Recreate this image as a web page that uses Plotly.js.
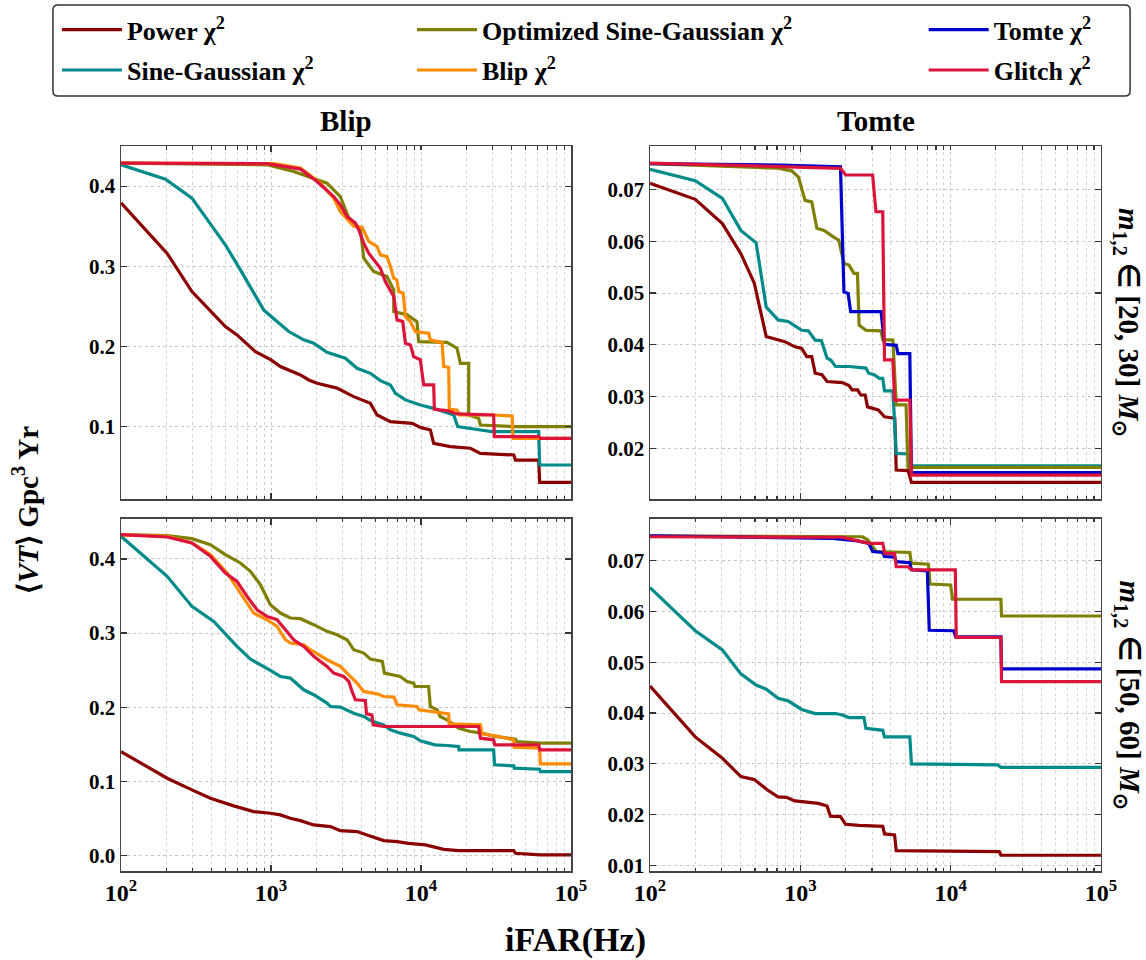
<!DOCTYPE html>
<html>
<head>
<meta charset="utf-8">
<script src="https://cdn.plot.ly/plotly-3.0.1.min.js"></script>
<style>html,body{margin:0;padding:0;background:#fff;}#chart{width:1146px;height:960px;}</style>
</head>
<body>
<div id="chart"></div>
<script>
// ---------------- DATA ----------------
const seriesNames = ["Power χ<sup>2</sup>", "Sine-Gaussian χ<sup>2</sup>", "Optimized Sine-Gaussian χ<sup>2</sup>", "Blip χ<sup>2</sup>", "Tomte χ<sup>2</sup>", "Glitch χ<sup>2</sup>"];
const panelTitles = ["Blip", "Tomte"];
const massLabels = ["<i>m</i><sub>1,2</sub> ∈ [20, 30] <i>M</i><sub>⊙</sub>", "<i>m</i><sub>1,2</sub> ∈ [50, 60] <i>M</i><sub>⊙</sub>"];
const xTickVals = [100, 1000, 10000, 100000];

// Panel: Blip, m in [20,30]
const bA_power_x = [100,203,297,496,593,787,1000,1154,1570,1783,2027,2754,3556,4594,5093,6250,8715,9900,11540,12140,15690,21330,24880,41500,42600,60850,61800,100000];
const bA_power_y = [0.379,0.316,0.2685,0.2248,0.2144,0.1936,0.1832,0.1749,0.1645,0.1582,0.154,0.148,0.1374,0.129,0.1145,0.1062,0.104,0.099,0.0958,0.079,0.075,0.073,0.0667,0.0646,0.0583,0.0583,0.0305,0.0305];
const bA_sg_x = [100,198,297,496,625,893,1016,1313,1652,1925,2361,3130,3745,4594,5356,6250,6750,7870,9900,12140,16520,17550,24880,29720,60850,61800,100000];
const bA_sg_y = [0.4266,0.4087,0.385,0.3268,0.2955,0.2456,0.2365,0.2186,0.2082,0.204,0.1928,0.1853,0.1728,0.1665,0.1574,0.152,0.1416,0.1333,0.127,0.1228,0.1145,0.1,0.0958,0.0937,0.0937,0.0521,0.0521];
const bA_osg_x = [100,940,1416,2361,2897,3296,3947,4150,4830,5930,6580,6580,8070,9400,9640,14890,17380,18290,20790,20790,24200,24880,42600,100000];
const bA_osg_y = [0.4287,0.4266,0.4183,0.4037,0.387,0.36,0.3455,0.31,0.2935,0.2872,0.2706,0.2435,0.2394,0.231,0.206,0.2052,0.1978,0.179,0.179,0.1145,0.1104,0.102,0.1,0.1];
const bA_blip_x = [100,1042,1570,2133,2618,2897,3556,4047,4480,5093,5356,5930,6250,6580,6900,7100,7600,7870,8490,9160,11240,11530,13800,14160,15280,15440,17380,18000,30480,40460,41050,100000];
const bA_blip_y = [0.4287,0.428,0.4225,0.4037,0.385,0.3683,0.35,0.3488,0.331,0.3247,0.3143,0.312,0.2997,0.2851,0.283,0.2685,0.2664,0.2373,0.231,0.2186,0.2165,0.2082,0.2048,0.1749,0.174,0.1216,0.1208,0.1145,0.1145,0.1133,0.0854,0.0854];
const bA_glitch_x = [100,940,1570,2027,2618,2897,3212,3650,3840,4150,4480,4830,5356,5780,6250,6580,6920,7550,7870,8500,8930,9900,10160,10420,12140,12270,14890,17380,30480,30800,60850,62500,100000];
const bA_glitch_y = [0.4287,0.428,0.4212,0.4058,0.387,0.3767,0.3621,0.3538,0.3455,0.3288,0.3163,0.308,0.2976,0.281,0.2685,0.2622,0.2331,0.231,0.204,0.2019,0.1873,0.1832,0.1665,0.152,0.152,0.1216,0.12,0.1158,0.1145,0.0875,0.0875,0.0854,0.0854];

// Panel: Tomte, m in [20,30]
const tA_power_x = [100,200,303,402,494,593,788,921,1021,1104,1191,1256,1393,1506,1900,2108,2209,2400,2524,2700,2800,3027,3300,3630,4130,4250,4345,5210,5485,100000];
const tA_power_y = [0.0712,0.0681,0.0634,0.0576,0.0519,0.0416,0.0406,0.0396,0.0393,0.0377,0.0377,0.0345,0.0342,0.0329,0.0327,0.0321,0.0313,0.0313,0.0303,0.0303,0.028,0.0277,0.0274,0.0261,0.0258,0.0258,0.0158,0.0157,0.0134,0.0134];
const tA_sg_x = [100,200,303,402,508,593,711,830,1021,1130,1256,1380,1506,1600,1714,2108,2729,2850,3100,3357,3534,3630,4130,4345,5210,5485,100000];
const tA_sg_y = [0.0739,0.0717,0.0683,0.0621,0.0597,0.0473,0.0448,0.0445,0.0428,0.0427,0.0409,0.0408,0.0374,0.037,0.0358,0.0358,0.0355,0.0345,0.0342,0.0335,0.0335,0.0311,0.0311,0.019,0.0189,0.0166,0.0166];
const tA_osg_x = [100,711,876,971,1075,1191,1289,1440,1648,1803,1950,2108,2275,2400,2460,2729,3444,3534,4130,4345,5050,5210,100000];
const tA_osg_y = [0.075,0.0741,0.0736,0.0724,0.0679,0.0676,0.0625,0.0621,0.0609,0.0602,0.0557,0.0554,0.0538,0.0538,0.0438,0.0428,0.0427,0.041,0.0409,0.0284,0.0284,0.0163,0.0163];
const tA_tomte_x = [100,748,1850,1950,2080,2162,3444,3630,4345,4460,5350,5485,100000];
const tA_tomte_y = [0.075,0.0747,0.0744,0.0502,0.0499,0.0464,0.0464,0.0401,0.0399,0.0383,0.0383,0.0153,0.0153];
const tA_glitch_x = [100,1850,2000,3027,3185,3534,3630,4130,4236,5350,5485,100000];
const tA_glitch_y = [0.0751,0.0741,0.0728,0.0728,0.0657,0.0657,0.0371,0.0371,0.0293,0.0293,0.0148,0.0148];

// Panel: Blip, m in [50,60]
const bB_power_x = [100,203,297,394,564,766,990,1154,1345,1570,1925,2488,2897,3745,4365,5093,5640,6920,8270,10700,12800,14160,17820,41500,42600,62500,100000];
const bB_power_y = [0.14,0.104,0.0883,0.077,0.0667,0.059,0.0568,0.0545,0.05,0.0468,0.041,0.0387,0.0333,0.032,0.0275,0.023,0.0198,0.0185,0.0162,0.014,0.0108,0.0081,0.0063,0.0063,0.0027,0.0005,0.0005];
const bB_sg_x = [100,203,297,415,593,728,990,1154,1345,1652,1925,2361,2488,2897,3556,4150,4594,5640,6250,7270,8930,9900,11240,12370,14890,17820,17900,30480,30900,41500,41800,61800,62500,100000];
const bB_sg_y = [0.4306,0.3766,0.336,0.3158,0.282,0.2649,0.2495,0.2414,0.2392,0.2234,0.2167,0.2054,0.2009,0.2,0.1919,0.1874,0.182,0.1761,0.1694,0.1649,0.1604,0.1545,0.1514,0.1491,0.1482,0.1468,0.1423,0.1423,0.1221,0.1207,0.1176,0.1162,0.113,0.113];
const bB_osg_x = [100,203,297,394,496,625,728,849,990,1154,1345,1570,1925,2361,2754,3212,3556,4150,4594,5520,5700,6580,7270,8070,8930,9100,11240,11530,12800,13420,14890,17820,21330,25490,31300,42600,43500,62500,100000];
const bB_osg_y = [0.4329,0.4315,0.4275,0.4194,0.4059,0.3946,0.3833,0.3653,0.3383,0.327,0.3203,0.3194,0.3113,0.3023,0.2977,0.291,0.2775,0.273,0.2649,0.2617,0.2459,0.2437,0.2414,0.2347,0.2324,0.2279,0.2279,0.2009,0.1964,0.1874,0.1829,0.1716,0.1671,0.1649,0.1604,0.1568,0.1536,0.1514,0.1514];
const bB_blip_x = [100,203,297,394,510,625,766,940,1096,1247,1345,1652,1828,2361,2897,3212,3745,4150,5093,5640,6600,6920,9400,9700,12140,15280,15400,24880,25490,31300,41500,41800,61800,62500,100000];
const bB_blip_y = [0.4329,0.4306,0.4216,0.4059,0.3811,0.3541,0.327,0.318,0.309,0.291,0.2865,0.2842,0.2775,0.264,0.255,0.2459,0.2324,0.2212,0.218,0.2144,0.2135,0.2032,0.2009,0.1964,0.1941,0.191,0.1775,0.1761,0.164,0.1613,0.1559,0.146,0.1446,0.1234,0.1234];
const bB_glitch_x = [100,203,297,394,496,593,692,807,940,1096,1247,1416,1652,1925,2361,2618,3050,3300,3470,3650,4250,4330,4700,4800,5640,24200,24880,30480,31000,60850,61800,100000];
const bB_glitch_y = [0.4329,0.4297,0.4216,0.4036,0.3811,0.3698,0.3495,0.3315,0.3225,0.318,0.3045,0.291,0.282,0.2685,0.255,0.2459,0.2414,0.2347,0.2212,0.2099,0.209,0.191,0.1896,0.1761,0.1739,0.1739,0.1581,0.1559,0.1491,0.1491,0.1423,0.1423];

// Panel: Tomte, m in [50,60]
const tB_power_x = [100,200,303,402,494,608,711,809,921,1075,1321,1506,1585,1850,2000,2460,3534,3630,4236,4345,21100,21600,100000];
const tB_power_y = [0.0453,0.0353,0.0311,0.0275,0.0269,0.0248,0.0235,0.0234,0.0227,0.0225,0.0222,0.0217,0.0197,0.0196,0.0181,0.0179,0.0177,0.0162,0.016,0.0129,0.0127,0.012,0.012];
const tB_sg_x = [100,200,303,402,508,593,711,830,1021,1256,1714,1900,2108,2650,2729,3534,3630,5350,5485,20500,21600,100000];
const tB_sg_y = [0.0647,0.0562,0.0524,0.0477,0.0455,0.0447,0.0429,0.0424,0.0407,0.0399,0.0399,0.0396,0.0391,0.0391,0.037,0.0366,0.0353,0.0353,0.03,0.0298,0.0293,0.0293];
const tB_osg_x = [100,2590,2800,3027,3200,5350,5485,7110,7300,10000,10300,21600,21800,100000];
const tB_osg_y = [0.0749,0.0747,0.0741,0.0728,0.0718,0.0716,0.0695,0.0693,0.0654,0.0652,0.0624,0.0624,0.0591,0.0591];
const tB_tomte_x = [100,1585,2400,2850,3027,3534,3630,4236,4345,5350,5485,7000,7210,10480,10800,21600,21800,100000];
const tB_tomte_y = [0.0749,0.0744,0.0739,0.0734,0.0718,0.0716,0.0708,0.0707,0.0698,0.0696,0.0682,0.068,0.0563,0.0562,0.055,0.055,0.0487,0.0487];
const tB_glitch_x = [100,1900,2590,2900,3534,3650,4236,4345,5210,5485,10740,10900,21600,21800,100000];
const tB_glitch_y = [0.0747,0.0746,0.0737,0.0734,0.0734,0.0714,0.0714,0.0688,0.0688,0.0682,0.0682,0.0549,0.0549,0.0462,0.0462];

// ---------------- STYLE ----------------
const colors = ["#8B0000", "#008B8B", "#808000", "#FF8C00", "#0000CD", "#DC143C"];
const FONT = "Liberation Serif";
const LW = 3.2;

const traces = [];
function addLine(x, y, ci, xa, ya) {
  traces.push({x: x, y: y, type: "scatter", mode: "lines", xaxis: xa, yaxis: ya,
    line: {color: colors[ci], width: LW}, showlegend: false, hoverinfo: "skip"});
}
addLine(bA_power_x, bA_power_y, 0, "x", "y");
addLine(bA_sg_x, bA_sg_y, 1, "x", "y");
addLine(bA_osg_x, bA_osg_y, 2, "x", "y");
addLine(bA_blip_x, bA_blip_y, 3, "x", "y");
addLine(bA_glitch_x, bA_glitch_y, 5, "x", "y");
addLine(tA_power_x, tA_power_y, 0, "x2", "y2");
addLine(tA_sg_x, tA_sg_y, 1, "x2", "y2");
addLine(tA_osg_x, tA_osg_y, 2, "x2", "y2");
addLine(tA_tomte_x, tA_tomte_y, 4, "x2", "y2");
addLine(tA_glitch_x, tA_glitch_y, 5, "x2", "y2");
addLine(bB_power_x, bB_power_y, 0, "x3", "y3");
addLine(bB_sg_x, bB_sg_y, 1, "x3", "y3");
addLine(bB_osg_x, bB_osg_y, 2, "x3", "y3");
addLine(bB_blip_x, bB_blip_y, 3, "x3", "y3");
addLine(bB_glitch_x, bB_glitch_y, 5, "x3", "y3");
addLine(tB_power_x, tB_power_y, 0, "x4", "y4");
addLine(tB_sg_x, tB_sg_y, 1, "x4", "y4");
addLine(tB_osg_x, tB_osg_y, 2, "x4", "y4");
addLine(tB_tomte_x, tB_tomte_y, 4, "x4", "y4");
addLine(tB_glitch_x, tB_glitch_y, 5, "x4", "y4");

// legend entries: one legend per entry, arranged like the reference (3 columns x 2 rows)
const legendIds = ["legend", "legend2", "legend3", "legend4", "legend5", "legend6"];
const legendPos = [[0.0497, 0.969], [0.0497, 0.927], [0.3595, 0.969], [0.3595, 0.927], [0.806, 0.969], [0.806, 0.927]];
const legendLayout = {};
for (let i = 0; i < 6; i++) {
  traces.push({x: [null], y: [null], type: "scatter", mode: "lines", xaxis: "x", yaxis: "y",
    name: seriesNames[i], line: {color: colors[i], width: LW}, showlegend: true, legend: legendIds[i]});
  legendLayout[legendIds[i]] = {x: legendPos[i][0], y: legendPos[i][1], xanchor: "left", yanchor: "middle",
    bgcolor: "rgba(0,0,0,0)", borderwidth: 0, itemwidth: 60,
    font: {family: FONT, size: 26, color: "#000", weight: "bold"}};
}

const tickFont = {family: FONT, size: 21, color: "#000", weight: "bold"};
function xAxis(domain, showLabels, anchor) {
  return {type: "log", range: [2, 5], domain: domain, anchor: anchor,
    tickvals: xTickVals, ticktext: showLabels ? ["10<sup>2</sup>", "10<sup>3</sup>", "10<sup>4</sup>", "10<sup>5</sup>"] : ["", "", "", ""],
    showticklabels: showLabels, ticks: "inside", ticklen: 6, tickwidth: 1.2, tickcolor: "#333",
    showline: true, linecolor: "#444", linewidth: 1.5, mirror: "ticks",
    showgrid: true, gridcolor: "#c8c8c8", griddash: "dot", gridwidth: 1,
    minor: {dtick: "D1", ticks: "inside", ticklen: 3.5, tickcolor: "#333", showgrid: true, gridcolor: "#d4d4d4", griddash: "dot", gridwidth: 1},
    tickfont: {family: FONT, size: 24, color: "#000", weight: "bold"}, zeroline: false};
}
function yAxis(domain, range, dtick, fmt, anchor) {
  return {range: range, domain: domain, anchor: anchor, dtick: dtick, tick0: 0, tickformat: fmt,
    ticks: "inside", ticklen: 6, tickwidth: 1.2, tickcolor: "#333",
    showline: true, linecolor: "#444", linewidth: 1.5, mirror: "ticks",
    showgrid: true, gridcolor: "#c8c8c8", griddash: "dot", gridwidth: 1, zeroline: false,
    tickfont: tickFont};
}

const xL = [0.1056, 0.4983], xR = [0.5672, 0.9607];
const yT = [0.4802, 0.8479], yB = [0.0927, 0.4594];

const layout = Object.assign({
  width: 1146, height: 960,
  margin: {l: 0, r: 0, t: 0, b: 0},
  paper_bgcolor: "#fff", plot_bgcolor: "#fff",
  showlegend: true,
  xaxis: xAxis(xL, false, "y"),
  yaxis: yAxis(yT, [0.0097, 0.450], 0.1, ".1f", "x"),
  xaxis2: xAxis(xR, false, "y2"),
  yaxis2: yAxis(yT, [0.0102, 0.0784], 0.01, ".2f", "x2"),
  xaxis3: xAxis(xL, true, "y3"),
  yaxis3: yAxis(yB, [-0.0212, 0.454], 0.1, ".1f", "x3"),
  xaxis4: xAxis(xR, true, "y4"),
  yaxis4: yAxis(yB, [0.0089, 0.0782], 0.01, ".2f", "x4"),
  shapes: [{type: "path", xref: "paper", yref: "paper",
    path: "M 0.0506,0.9948 L 0.9817,0.9948 Q 0.9861,0.9948 0.9861,0.9896 L 0.9861,0.9052 Q 0.9861,0.9 0.9817,0.9 L 0.0506,0.9 Q 0.0462,0.9 0.0462,0.9052 L 0.0462,0.9896 Q 0.0462,0.9948 0.0506,0.9948 Z",
    line: {color: "#333", width: 1.5}, fillcolor: "rgba(0,0,0,0)"}],
  annotations: [
    {text: panelTitles[0], x: 0.302, y: 0.874, xref: "paper", yref: "paper", showarrow: false, xanchor: "center", yanchor: "middle",
      font: {family: FONT, size: 29, color: "#000", weight: "bold"}},
    {text: panelTitles[1], x: 0.764, y: 0.874, xref: "paper", yref: "paper", showarrow: false, xanchor: "center", yanchor: "middle",
      font: {family: FONT, size: 29, color: "#000", weight: "bold"}},
    {text: massLabels[0], x: 0.984, y: 0.664, xref: "paper", yref: "paper", showarrow: false, textangle: 90, xanchor: "center", yanchor: "middle",
      font: {family: FONT, size: 29, color: "#000", weight: "bold"}},
    {text: massLabels[1], x: 0.984, y: 0.276, xref: "paper", yref: "paper", showarrow: false, textangle: 90, xanchor: "center", yanchor: "middle",
      font: {family: FONT, size: 29, color: "#000", weight: "bold"}},
    {text: "⟨<i>VT</i>⟩ Gpc<sup>3</sup> Yr", x: 0.022, y: 0.469, xref: "paper", yref: "paper", showarrow: false, textangle: -90, xanchor: "center", yanchor: "middle",
      font: {family: FONT, size: 29, color: "#000", weight: "bold"}},
    {text: "iFAR(Hz)", x: 0.502, y: 0.021, xref: "paper", yref: "paper", showarrow: false, xanchor: "center", yanchor: "middle",
      font: {family: FONT, size: 34, color: "#000", weight: "bold"}}
  ]
}, legendLayout);

Plotly.newPlot("chart", traces, layout, {staticPlot: true, displayModeBar: false});
</script>
</body>
</html>
